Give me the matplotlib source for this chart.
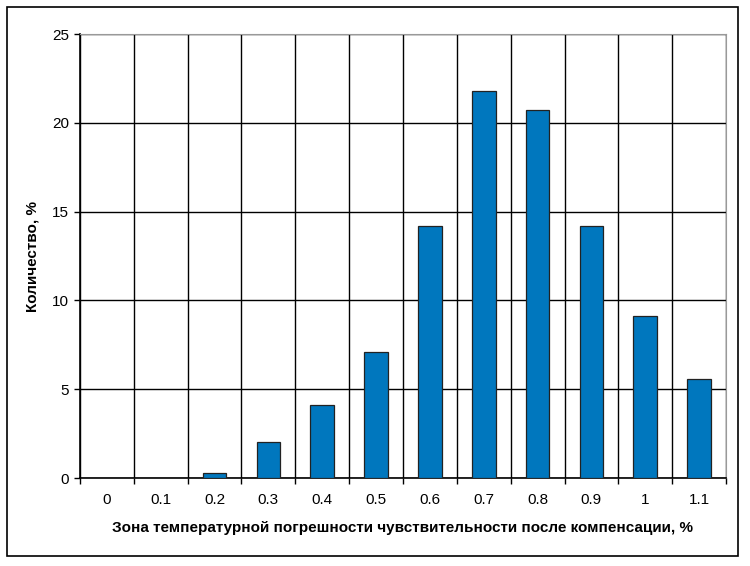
import matplotlib
matplotlib.use("Agg")
import matplotlib.pyplot as plt
from matplotlib.patches import Rectangle
import numpy as np

plt.rcParams['font.family'] = ['Liberation Sans', 'DejaVu Sans']

categories = ["0", "0.1", "0.2", "0.3", "0.4", "0.5", "0.6", "0.7", "0.8", "0.9", "1", "1.1"]
values = [0, 0, 0.3, 2.0, 4.1, 7.1, 14.2, 21.8, 20.7, 14.2, 9.1, 5.6]
y_ticks = [0, 5, 10, 15, 20, 25]

fig = plt.figure(figsize=(7.5, 5.66), dpi=100)
fig.patch.set_facecolor('white')
fig.patches.append(Rectangle((7/750, 1 - 556/566), (738-7)/750, (556-7)/566,
                             transform=fig.transFigure, fill=False,
                             edgecolor='black', linewidth=1.2))

ax = fig.add_axes([80/750, 1 - 478/566, (726-80)/750, (478-34)/566])
x = np.arange(len(categories))
ax.bar(x, values, width=0.44, color='#0077BE', edgecolor='#222222', linewidth=0.9, zorder=3)

ax.set_xlim(-0.5, len(categories) - 0.5)
ax.set_ylim(0, 25)
ax.set_yticks(y_ticks)
ax.set_xticks(x)
ax.set_xticklabels(categories)
ax.set_xticks(np.arange(len(categories) + 1) - 0.5, minor=True)

ax.grid(True, axis='y', color='black', linewidth=1.0, zorder=1)
ax.grid(True, axis='x', which='minor', color='black', linewidth=1.0, zorder=1)
ax.tick_params(axis='x', which='major', length=0, pad=11, labelsize=11)
ax.tick_params(axis='x', which='minor', length=4, width=1, direction='out')
ax.tick_params(axis='y', length=4, width=1, direction='out', pad=4, labelsize=11)

for s in ['top', 'right']:
    ax.spines[s].set_color('#999999')
for s in ['left', 'bottom']:
    ax.spines[s].set_color('black')
    ax.spines[s].set_linewidth(1.2)

ax.set_xlabel('Зона температурной погрешности чувствительности после компенсации, %',
              fontsize=11, fontweight='bold', labelpad=10)
ax.set_ylabel('Количество, %', fontsize=11, fontweight='bold', labelpad=9)

fig.savefig('out.png', dpi=100)
